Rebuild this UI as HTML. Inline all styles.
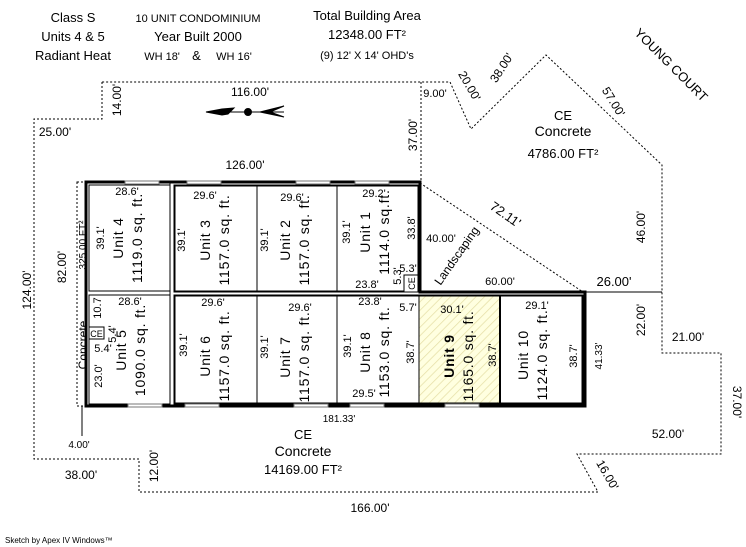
<!DOCTYPE html>
<html><head><meta charset="utf-8"><style>
html,body{margin:0;padding:0;background:#fff;}
svg{display:block;font-family:"Liberation Sans",sans-serif;}
text{fill:#000;}
.ul text{letter-spacing:0.8px;}
</style></head><body>
<svg width="746" height="547" viewBox="0 0 746 547" xmlns="http://www.w3.org/2000/svg">
<defs>
<pattern id="hatch" width="6" height="6" patternUnits="userSpaceOnUse" patternTransform="rotate(45)">
<rect width="6" height="6" fill="#ffffe0"/><line x1="0" y1="0" x2="0" y2="6" stroke="#e6e0a8" stroke-width="1.5"/>
</pattern>
</defs>
<g font-size="13" text-anchor="middle">
<text x="73" y="22">Class S</text>
<text x="73" y="41">Units 4 &amp; 5</text>
<text x="73" y="60">Radiant Heat</text>
<text x="198" y="22" font-size="11">10 UNIT CONDOMINIUM</text>
<text x="198" y="41">Year Built 2000</text>
<text x="198" y="60" font-size="11" xml:space="preserve">WH 18'    <tspan font-size="13">&amp;</tspan>     WH 16'</text>
<text x="367" y="20">Total Building Area</text>
<text x="367" y="39">12348.00 FT²</text>
<text x="367" y="59" font-size="11">(9) 12' X 14' OHD's</text>
<text transform="translate(668,68) rotate(45)" font-size="13">YOUNG COURT</text>
</g>
<g fill="none" stroke="#000" stroke-width="1" stroke-dasharray="2,2">
<polyline points="102,82 102,119 34,119 34,459 139,459 139,492 598,492 577,454 721,454 721,353 662,353 662,165 546,55 471,129 450,82 102,82"/>
<line x1="421" y1="82" x2="421" y2="182"/>
<line x1="420" y1="183" x2="583" y2="292"/>
<rect x="77" y="182" width="9" height="224"/>
</g>
<line x1="583" y1="292" x2="662" y2="292" stroke="#000" stroke-width="1"/>
<line x1="82" y1="406" x2="82" y2="436" stroke="#000" stroke-width="1"/>
<g stroke="#000" fill="#000">
<line x1="206" y1="112" x2="284" y2="112" stroke-width="1"/>
<polygon points="206,112 222,109 234,108 228,114 222,115" />
<circle cx="248" cy="112" r="3.5"/>
<polygon points="260,112 284,106 270,112 284,117" fill="#000"/>
</g>
<rect x="419" y="295" width="81" height="110" fill="url(#hatch)"/>
<g fill="none" stroke="#000">
<polygon points="86,182 420,182 420,292 585,292 585,406 86,406" stroke-width="3"/>
<rect x="89" y="185" width="81" height="106" stroke-width="1"/>
<rect x="174.5" y="185.5" width="244" height="106" stroke-width="2"/>
<rect x="89" y="295" width="81" height="109" stroke-width="1"/>
<rect x="174.5" y="295.5" width="408" height="108" stroke-width="2"/>
<line x1="257" y1="186" x2="257" y2="291"/>
<line x1="337" y1="186" x2="337" y2="291"/>
<line x1="257" y1="296" x2="257" y2="403"/>
<line x1="337" y1="296" x2="337" y2="403"/>
<line x1="419" y1="296" x2="419" y2="403"/>
<line x1="500" y1="296" x2="500" y2="403" stroke-width="2"/>
<line x1="170" y1="183" x2="170" y2="405" stroke-width="1"/>
<rect x="404" y="275" width="14" height="17" fill="#fff" stroke-width="1"/>
<rect x="89" y="327" width="15" height="12" fill="#fff" stroke-width="1"/>
</g>
<g fill="#fff" stroke="#777" stroke-width="1">
<rect x="125" y="181" width="34" height="3"/><rect x="187" y="181" width="34" height="3"/>
<rect x="296" y="181" width="34" height="3"/><rect x="355" y="181" width="34" height="3"/>
<rect x="128" y="404" width="34" height="3"/><rect x="185" y="404" width="34" height="3"/>
<rect x="294" y="404" width="34" height="3"/><rect x="350" y="404" width="34" height="3"/>
<rect x="445" y="404" width="34" height="3"/>
</g>
<text x="96.5" y="337" font-size="9" text-anchor="middle">CE</text>
<text transform="translate(415,283.5) rotate(-90)" font-size="9" text-anchor="middle">CE</text>
<g font-size="14" text-anchor="middle" class="ul">
<g transform="translate(127,238) rotate(-90)"><text y="-4">Unit 4</text><text y="15">1119.0 sq. ft.</text></g>
<g transform="translate(214,240) rotate(-90)"><text y="-4">Unit 3</text><text y="15">1157.0 sq. ft.</text></g>
<g transform="translate(294,240) rotate(-90)"><text y="-4">Unit 2</text><text y="15">1157.0 sq. ft.</text></g>
<g transform="translate(374,232) rotate(-90)"><text y="-4">Unit 1</text><text y="15">1114.0 sq.ft.</text></g>
<g transform="translate(130,350) rotate(-90)"><text y="-4">Unit 5</text><text y="15">1090.0 sq. ft.</text></g>
<g transform="translate(214,356) rotate(-90)"><text y="-4">Unit 6</text><text y="15">1157.0 sq. ft.</text></g>
<g transform="translate(294,357) rotate(-90)"><text y="-4">Unit 7</text><text y="15">1157.0 sq. ft.</text></g>
<g transform="translate(374,352) rotate(-90)"><text y="-4">Unit 8</text><text y="15">1153.0 sq. ft.</text></g>
<g transform="translate(458,356) rotate(-90)"><text y="-4" font-weight="bold" font-size="14">Unit 9</text><text y="15">1165.0 sq. ft.</text></g>
<g transform="translate(532,355) rotate(-90)"><text y="-4">Unit 10</text><text y="15">1124.0 sq. ft.</text></g>
</g>
<g font-size="11" text-anchor="middle">
<text x="127" y="195">28.6'</text><text x="205" y="199">29.6'</text><text x="292" y="201">29.6'</text><text x="374" y="197">29.2'</text>
<text transform="translate(104,238) rotate(-90)">39.1'</text>
<text transform="translate(185,240) rotate(-90)">39.1'</text>
<text transform="translate(268,240) rotate(-90)">39.1'</text>
<text transform="translate(350,232) rotate(-90)">39.1'</text>
<text transform="translate(415,228) rotate(-90)">33.8'</text>
<text x="408" y="272">5.3'</text>
<text transform="translate(401,276) rotate(-90)">5.3'</text>
<text x="367" y="288">23.8'</text>
<text x="130" y="305">28.6'</text>
<text transform="translate(101,308) rotate(-90)">10.7</text>
<text transform="translate(116,334) rotate(-90)">5.4'</text>
<text x="103" y="352">5.4'</text>
<text transform="translate(102,376) rotate(-90)">23.0'</text>
<text x="213" y="306">29.6'</text><text x="300" y="311">29.6'</text>
<text transform="translate(187,345) rotate(-90)">39.1'</text>
<text transform="translate(268,347) rotate(-90)">39.1'</text>
<text transform="translate(351,346) rotate(-90)">39.1'</text>
<text x="370" y="305">23.8'</text><text x="408" y="311">5.7'</text>
<text transform="translate(414,352) rotate(-90)">38.7'</text>
<text x="364" y="397">29.5'</text>
<text x="452" y="313">30.1'</text>
<text transform="translate(496,355) rotate(-90)">38.7'</text>
<text x="537" y="309">29.1'</text>
<text transform="translate(577,356) rotate(-90)">38.7'</text>
<text transform="translate(602,356) rotate(-90)" font-size="10">41.33'</text>
<text x="339" y="422" font-size="10">181.33'</text>
<text transform="translate(86,245) rotate(-90)" font-size="10">325.00 FT²</text>
<text transform="translate(87,345) rotate(-90)" font-size="12">Concrete</text>
</g>
<g font-size="12" text-anchor="middle">
<text x="250" y="96">116.00'</text>
<text transform="translate(121,100) rotate(-90)">14.00'</text>
<text x="55" y="136">25.00'</text>
<text transform="translate(417,135) rotate(-90)">37.00'</text>
<text x="435" y="97" font-size="11">9.00'</text>
<text transform="translate(466,88) rotate(60)">20.00'</text>
<text transform="translate(505,70) rotate(-57)">38.00'</text>
<text transform="translate(610,104) rotate(58)">57.00'</text>
<text x="563" y="120" font-size="13">CE</text>
<text x="563" y="136" font-size="14">Concrete</text>
<text x="563" y="158" font-size="13">4786.00 FT²</text>
<text x="245" y="169">126.00'</text>
<text transform="translate(503,218) rotate(35)" font-size="13">72.11'</text>
<text transform="translate(645,227) rotate(-90)">46.00'</text>
<text x="441" y="242" font-size="11">40.00'</text>
<text transform="translate(460,258) rotate(-55)" font-size="12">Landscaping</text>
<text x="500" y="285" font-size="11">60.00'</text>
<text x="614" y="286" font-size="13">26.00'</text>
<text transform="translate(645,320) rotate(-90)">22.00'</text>
<text x="688" y="341">21.00'</text>
<text transform="translate(733,402) rotate(90)">37.00'</text>
<text x="668" y="438">52.00'</text>
<text transform="translate(604,477) rotate(60)">16.00'</text>
<text x="370" y="512">166.00'</text>
<text x="81" y="479">38.00'</text>
<text transform="translate(158,466) rotate(-90)">12.00'</text>
<text x="79" y="448" font-size="10">4.00'</text>
<text x="303" y="439" font-size="13">CE</text>
<text x="303" y="456" font-size="14">Concrete</text>
<text x="303" y="474" font-size="13">14169.00 FT²</text>
<text transform="translate(31,290) rotate(-90)">124.00'</text>
<text transform="translate(66,267) rotate(-90)">82.00'</text>
</g>
<text x="5" y="543" font-size="8">Sketch by Apex IV Windows™</text>
</svg>
</body></html>
